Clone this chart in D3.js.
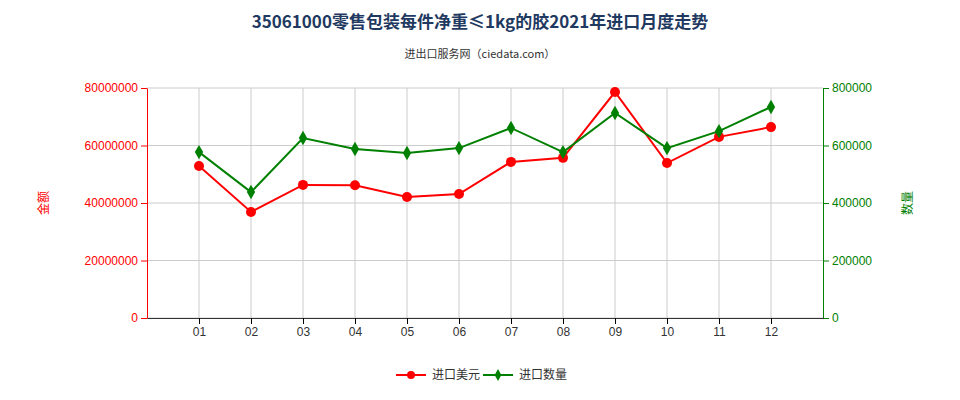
<!DOCTYPE html><html><head><meta charset="utf-8"><script src="https://cdn.jsdelivr.net/npm/d3@7"></script>
<style>body{margin:0;font-family:"Noto Sans CJK SC","Noto Sans",sans-serif;background:#fff}</style></head><body><svg id="c" width="960" height="400"></svg>
<script>
const months=["01","02","03","04","05","06","07","08","09","10","11","12"];
const amount=[52900000,36900000,46300000,46200000,42100000,43100000,54300000,55700000,78600000,53900000,63000000,66400000];
const qty=[577000,438000,626000,588000,574000,591000,661000,577000,713000,591000,650000,734000];
const leftTicks=[0,20000000,40000000,60000000,80000000];
const rightTicks=[0,200000,400000,600000,800000];
const svg=d3.select("#c");
const L=147,R=823,T=88,B=318;
const x=d3.scaleLinear().domain([0,13]).range([L,R]);
const yl=d3.scaleLinear().domain([0,80000000]).range([B,T]);
const yr=d3.scaleLinear().domain([0,800000]).range([B,T]);
svg.append("text").attr("x",480).attr("y",28).attr("text-anchor","middle").attr("font-size",17).attr("font-weight","bold").attr("fill","#1f3961").text("35061000零售包装每件净重≤1kg的胶2021年进口月度走势");
svg.append("text").attr("x",480).attr("y",58).attr("text-anchor","middle").attr("font-size",11).attr("fill","#333").text("进出口服务网（ciedata.com）");
const g=svg.append("g");
leftTicks.forEach(t=>g.append("line").attr("x1",L).attr("x2",R).attr("y1",yl(t)).attr("y2",yl(t)).attr("stroke","#ccc"));
months.forEach((m,i)=>g.append("line").attr("x1",x(i+1)).attr("x2",x(i+1)).attr("y1",T).attr("y2",B).attr("stroke","#ccc"));
svg.append("g").attr("transform",`translate(${L},0)`).call(d3.axisLeft(yl).tickValues(leftTicks).tickFormat(d=>d).tickSizeOuter(0))
 .call(a=>{a.select(".domain").attr("stroke","red");a.selectAll("line").attr("stroke","red");a.selectAll("text").attr("fill","red").attr("font-size",12);});
svg.append("g").attr("transform",`translate(${R},0)`).call(d3.axisRight(yr).tickValues(rightTicks).tickFormat(d=>d).tickSizeOuter(0))
 .call(a=>{a.select(".domain").attr("stroke","green");a.selectAll("line").attr("stroke","green");a.selectAll("text").attr("fill","green").attr("font-size",12);});
svg.append("g").attr("transform",`translate(0,${B})`).call(d3.axisBottom(x).tickValues(d3.range(1,13)).tickFormat(d=>months[d-1]).tickSizeOuter(0))
 .call(a=>{a.select(".domain").attr("stroke","#333");a.selectAll("text").attr("fill","#333").attr("font-size",12);});
svg.append("text").attr("transform","translate(48,203) rotate(-90)").attr("text-anchor","middle").attr("fill","red").attr("font-size",12).text("金额");
svg.append("text").attr("transform","translate(912,203) rotate(-90)").attr("text-anchor","middle").attr("fill","green").attr("font-size",12).text("数量");
const lr=d3.line().x((d,i)=>x(i+1)).y(d=>yl(d));
svg.append("path").attr("d",lr(amount)).attr("fill","none").attr("stroke","red").attr("stroke-width",2);
svg.selectAll(".r").data(amount).enter().append("circle").attr("cx",(d,i)=>x(i+1)).attr("cy",d=>yl(d)).attr("r",5).attr("fill","red");
const lg=d3.line().x((d,i)=>x(i+1)).y(d=>yr(d));
svg.append("path").attr("d",lg(qty)).attr("fill","none").attr("stroke","green").attr("stroke-width",2);
svg.selectAll(".g").data(qty).enter().append("path").attr("d",d3.symbol(d3.symbolDiamond,60)).attr("transform",(d,i)=>`translate(${x(i+1)},${yr(d)})`).attr("fill","green");
const lgd=svg.append("g").attr("transform","translate(0,375)");
lgd.append("line").attr("x1",396).attr("x2",426).attr("stroke","red").attr("stroke-width",2);
lgd.append("circle").attr("cx",411).attr("r",4).attr("fill","red");
lgd.append("text").attr("x",432).attr("y",4).attr("font-size",12).attr("fill","#333").text("进口美元");
lgd.append("line").attr("x1",483).attr("x2",513).attr("stroke","green").attr("stroke-width",2);
lgd.append("path").attr("d",d3.symbol(d3.symbolDiamond,40)).attr("transform","translate(498,0)").attr("fill","green");
lgd.append("text").attr("x",519).attr("y",4).attr("font-size",12).attr("fill","#333").text("进口数量");
</script></body></html>
